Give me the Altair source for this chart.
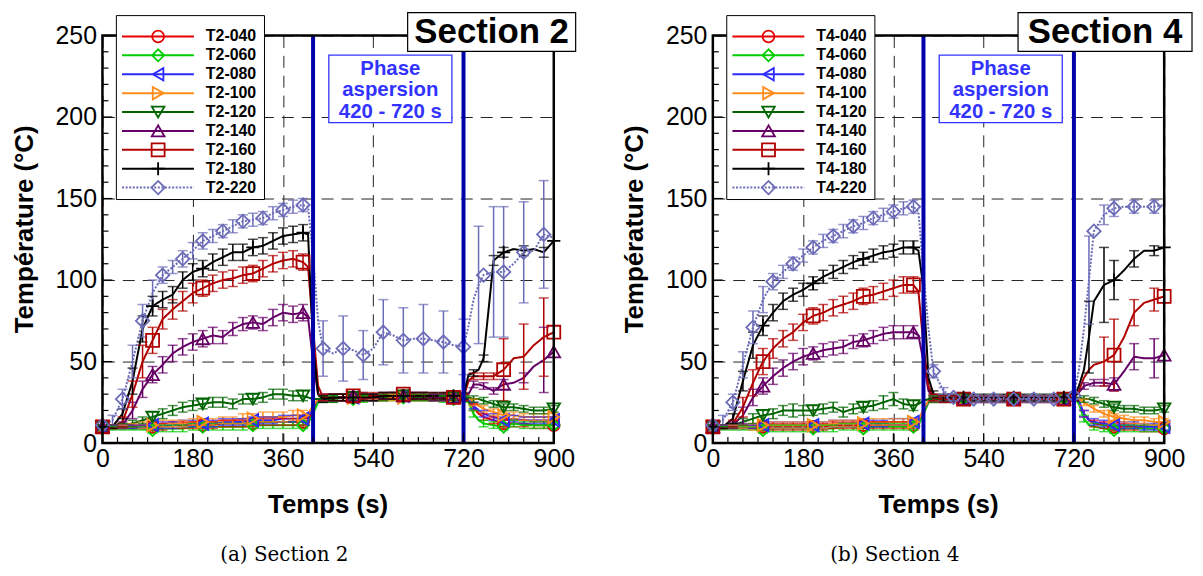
import altair as alt
import pandas as pd

# ---------------- data ----------------
TIMES = [0, 20, 40, 60, 80, 100, 120, 140, 160, 180,
         200, 220, 240, 260, 280, 300, 320, 340, 360, 380,
         400, 410, 420, 430, 440, 460, 480, 500, 520, 540,
         560, 580, 600, 620, 640, 660, 680, 700, 720, 730,
         740, 750, 760, 780, 800, 820, 840, 860, 880, 900]

SERIES = ["040", "060", "080", "100", "120", "140", "160", "180", "220"]
COLORS = ["#e60000", "#00cc00", "#2b2bff", "#ff8c1a", "#006400",
          "#660066", "#b00000", "#000000", "#6b6bb8"]
SHAPES = ["circle", "diamond", "triangle-left", "triangle-right", "triangle-down",
          "triangle-up", "square", "M-1,0H1M0,-1V1", "diamond"]
SIZES = [140, 180, 160, 160, 160, 160, 125, 30, 190]
DASHES = [[1, 0]] * 8 + [[2, 1.6]]

X_TICKS = [0, 180, 360, 540, 720, 900]
Y_TICKS = [0, 50, 100, 150, 200, 250]
PHASE = [420, 720]

# Section 2
S2_040 = [10, 10, 10, 10, 10, 10, 10, 11, 11, 11,
          11, 11, 12, 12, 12, 12, 13, 13, 13, 13,
          13, 14, 20, 26, 27, 28, 28, 28, 28, 28,
          28, 29, 29, 29, 29, 28, 28, 28, 28, 26,
          22, 18, 16, 14, 12, 12, 12, 11, 11, 11]
S2_060 = [9, 9, 9, 9, 9, 8, 9, 9, 9, 10,
          10, 10, 10, 10, 10, 11, 11, 11, 11, 11,
          11, 12, 18, 25, 27, 27, 28, 27, 27, 28,
          28, 28, 28, 28, 28, 28, 27, 27, 27, 25,
          18, 14, 12, 11, 10, 12, 11, 11, 11, 11]
S2_080 = [10, 10, 10, 10, 10, 11, 11, 11, 12, 12,
          12, 12, 13, 13, 13, 14, 14, 14, 15, 15,
          15, 16, 22, 27, 28, 28, 28, 28, 28, 28,
          29, 29, 29, 29, 29, 28, 28, 28, 28, 27,
          23, 20, 18, 16, 14, 15, 14, 14, 14, 14]
S2_100 = [10, 10, 10, 11, 11, 11, 12, 12, 12, 13,
          13, 13, 14, 14, 15, 15, 16, 16, 16, 17,
          17, 18, 23, 27, 28, 28, 28, 28, 28, 28,
          28, 28, 28, 28, 28, 28, 28, 28, 28, 28,
          25, 23, 21, 19, 17, 17, 16, 16, 16, 16]
S2_120 = [10, 10, 11, 12, 14, 16, 18, 20, 22, 23,
          24, 25, 25, 24, 27, 27, 28, 30, 30, 29,
          29, 28, 27, 27, 27, 27, 28, 28, 28, 28,
          28, 29, 29, 28, 28, 28, 28, 28, 28, 28,
          27, 27, 26, 24, 22, 22, 21, 20, 20, 21]
S2_140 = [10, 10, 11, 20, 33, 42, 48, 55, 59, 62,
          64, 66, 65, 70, 73, 74, 73, 77, 80, 79,
          80, 77, 50, 30, 28, 28, 28, 29, 29, 28,
          29, 29, 29, 29, 29, 28, 28, 28, 28, 30,
          36, 36, 35, 32, 36, 37, 40, 47, 51, 56]
S2_160 = [10, 10, 13, 30, 50, 63, 76, 82, 87, 92,
          95, 98, 100, 101, 103, 104, 107, 110, 112, 113,
          111, 108, 70, 35, 28, 28, 28, 29, 29, 29,
          29, 29, 30, 29, 29, 29, 29, 28, 28, 38,
          41, 41, 41, 41, 45, 52, 53, 60, 65, 68]
S2_180 = [10, 10, 18, 38, 70, 84, 88, 91, 100, 105,
          107, 111, 114, 117, 117, 120, 121, 124, 127, 128,
          129, 128, 60, 30, 27, 28, 28, 28, 28, 28,
          29, 29, 29, 29, 29, 29, 29, 29, 29, 42,
          43, 45, 52, 112, 117, 119, 118, 119, 117, 124]
S2_220 = [11, 14, 27, 50, 75, 92, 103, 108, 113, 118,
          124, 127, 130, 133, 136, 137, 138, 141, 143, 145,
          146, 145, 115, 75, 58, 55, 58, 57, 54, 58,
          68, 66, 63, 64, 64, 63, 62, 60, 59, 72,
          88, 97, 103, 105, 105, 110, 117, 118, 128, 126]

E2_LOW = [1, 1, 1, 1, 1, 2, 2, 2, 2, 2,
          2, 2, 2, 2, 2, 2, 2, 2, 2, 2,
          2, 0, 0, 0, 2, 2, 2, 2, 2, 2,
          2, 2, 2, 2, 2, 2, 2, 2, 2, 0,
          2, 0, 2, 2, 2, 2, 2, 2, 2, 2]
E2_100 = [1, 1, 1, 1, 2, 2, 2, 2, 2, 2,
          2, 2, 2, 2, 3, 3, 3, 3, 3, 3,
          3, 0, 0, 0, 2, 2, 2, 2, 2, 2,
          2, 2, 2, 2, 2, 2, 2, 2, 2, 0,
          2, 0, 2, 2, 2, 2, 2, 2, 2, 2]
E2_120 = [1, 1, 1, 2, 2, 3, 3, 3, 3, 3,
          3, 3, 3, 3, 3, 3, 3, 3, 3, 3,
          3, 0, 0, 0, 2, 2, 2, 2, 2, 2,
          2, 2, 2, 2, 2, 2, 2, 2, 2, 0,
          2, 0, 2, 2, 2, 2, 2, 2, 2, 2]
E2_140 = [0, 1, 2, 5, 5, 5, 5, 5, 5, 5,
          5, 5, 4, 4, 4, 4, 4, 5, 5, 5,
          5, 0, 0, 0, 2, 2, 2, 2, 2, 2,
          2, 2, 2, 2, 2, 2, 2, 2, 2, 0,
          2, 0, 2, 2, 3, 0, 3, 0, 20, 0]
E2_160 = [0, 1, 3, 8, 10, 8, 6, 6, 6, 6,
          5, 5, 5, 5, 5, 5, 5, 5, 5, 5,
          5, 0, 0, 0, 2, 2, 2, 2, 2, 2,
          2, 2, 2, 2, 2, 2, 2, 2, 2, 0,
          2, 0, 2, 2, 19, 0, 20, 0, 24, 0]
E2_180 = [0, 1, 3, 8, 8, 6, 5, 5, 5, 5,
          5, 5, 5, 5, 5, 5, 5, 5, 5, 5,
          5, 0, 0, 0, 2, 2, 2, 2, 2, 2,
          2, 2, 2, 2, 2, 2, 2, 2, 2, 0,
          2, 0, 2, 3, 3, 0, 3, 0, 3, 0]
E2_220 = [2, 3, 6, 10, 10, 8, 5, 4, 5, 5,
          5, 4, 4, 4, 4, 4, 4, 4, 4, 4,
          4, 0, 0, 0, 17, 0, 20, 0, 15, 0,
          20, 0, 20, 0, 21, 0, 19, 0, 17, 0,
          0, 36, 0, 40, 40, 0, 31, 0, 33, 0]

# Section 4
S4_040 = [10, 10, 10, 10, 10, 10, 10, 10, 10, 10,
          10, 10, 11, 11, 11, 11, 11, 11, 11, 11,
          11, 12, 18, 25, 27, 27, 27, 27, 27, 27,
          27, 27, 27, 27, 27, 27, 27, 27, 28, 25,
          18, 14, 12, 11, 10, 10, 10, 9, 9, 9]
S4_060 = [9, 9, 9, 9, 9, 8, 9, 9, 9, 9,
          9, 9, 9, 10, 10, 9, 10, 10, 10, 10,
          10, 11, 18, 25, 27, 27, 27, 27, 27, 27,
          27, 27, 27, 27, 27, 27, 27, 27, 28, 24,
          15, 11, 10, 9, 8, 9, 9, 9, 9, 9]
S4_080 = [10, 10, 10, 10, 10, 11, 11, 11, 11, 11,
          11, 11, 12, 12, 12, 12, 12, 12, 13, 13,
          13, 14, 20, 26, 27, 27, 27, 27, 27, 27,
          27, 27, 27, 27, 27, 27, 27, 27, 28, 26,
          18, 14, 13, 12, 11, 11, 11, 10, 10, 10]
S4_100 = [10, 10, 10, 10, 10, 11, 11, 11, 11, 11,
          11, 11, 12, 12, 12, 12, 13, 13, 13, 13,
          13, 14, 21, 26, 27, 27, 27, 27, 27, 27,
          27, 27, 27, 27, 27, 27, 27, 27, 28, 27,
          25, 23, 21, 18, 16, 15, 14, 14, 13, 13]
S4_120 = [10, 10, 11, 13, 15, 17, 18, 20, 20, 20,
          20, 21, 22, 19, 21, 22, 23, 25, 27, 24,
          23, 24, 26, 27, 27, 27, 27, 27, 27, 27,
          27, 27, 27, 27, 27, 27, 27, 27, 28, 28,
          27, 27, 26, 24, 22, 21, 21, 20, 20, 21]
S4_140 = [10, 10, 11, 17, 28, 35, 41, 46, 50, 53,
          55, 57, 58, 59, 62, 63, 65, 67, 68, 68,
          68, 66, 50, 32, 28, 27, 27, 27, 27, 27,
          27, 27, 27, 27, 27, 27, 27, 27, 28, 31,
          35, 36, 37, 37, 36, 44, 53, 52, 52, 54]
S4_160 = [10, 10, 12, 22, 37, 50, 58, 64, 68, 74,
          78, 80, 83, 85, 87, 90, 91, 93, 95, 97,
          97, 93, 60, 35, 28, 27, 27, 27, 27, 27,
          27, 27, 27, 27, 27, 27, 27, 27, 28, 32,
          40, 45, 48, 50, 54, 65, 80, 86, 88, 90]
S4_180 = [10, 10, 15, 38, 60, 72, 80, 87, 91, 94,
          98, 102, 105, 108, 111, 113, 115, 117, 118, 120,
          120, 118, 95, 40, 30, 28, 28, 28, 28, 28,
          28, 28, 28, 28, 28, 28, 28, 28, 28, 35,
          45, 65, 87, 97, 100, 106, 113, 118, 118, 120]
S4_220 = [11, 14, 25, 48, 71, 88, 99, 105, 110, 115,
          120, 124, 127, 130, 133, 135, 138, 140, 142, 144,
          145, 142, 105, 70, 44, 32, 28, 28, 27, 27,
          27, 27, 27, 27, 27, 27, 27, 27, 29, 45,
          70, 100, 130, 140, 144, 145, 145, 145, 145, 146]

E4_LOW = [1, 1, 1, 1, 1, 2, 2, 2, 2, 2,
          2, 2, 2, 2, 2, 2, 2, 2, 2, 2,
          2, 0, 0, 0, 2, 2, 2, 2, 2, 2,
          2, 2, 2, 2, 2, 2, 2, 2, 2, 0,
          2, 0, 2, 2, 2, 2, 2, 2, 2, 2]
E4_100 = [1, 1, 1, 1, 2, 2, 2, 2, 2, 2,
          2, 2, 2, 2, 2, 2, 2, 2, 2, 2,
          2, 0, 0, 0, 2, 2, 2, 2, 2, 2,
          2, 2, 2, 2, 2, 2, 2, 2, 2, 0,
          2, 0, 2, 2, 2, 2, 2, 2, 2, 2]
E4_120 = [1, 1, 1, 2, 3, 3, 3, 3, 4, 3,
          3, 3, 3, 3, 3, 3, 3, 4, 4, 3,
          3, 0, 0, 0, 2, 2, 2, 2, 2, 2,
          2, 2, 2, 2, 2, 2, 2, 2, 2, 0,
          2, 0, 2, 2, 2, 2, 2, 2, 2, 2]
E4_140 = [0, 1, 2, 5, 5, 5, 5, 5, 5, 5,
          4, 4, 4, 4, 4, 4, 4, 4, 4, 4,
          4, 0, 0, 0, 2, 2, 2, 2, 2, 2,
          2, 2, 2, 2, 2, 2, 2, 2, 2, 0,
          2, 0, 2, 2, 4, 0, 8, 0, 12, 0]
E4_160 = [0, 1, 2, 6, 8, 8, 6, 5, 5, 5,
          5, 5, 5, 5, 5, 5, 5, 5, 5, 5,
          5, 0, 0, 0, 2, 2, 2, 2, 2, 2,
          2, 2, 2, 2, 2, 2, 2, 2, 2, 0,
          0, 0, 0, 15, 22, 0, 8, 0, 7, 0]
E4_180 = [0, 1, 3, 6, 8, 6, 5, 5, 4, 4,
          4, 4, 4, 4, 4, 4, 4, 4, 4, 4,
          4, 0, 0, 0, 2, 2, 2, 2, 2, 2,
          2, 2, 2, 2, 2, 2, 2, 2, 2, 0,
          0, 22, 0, 23, 12, 0, 5, 0, 3, 0]
E4_220 = [2, 3, 5, 8, 10, 8, 5, 4, 4, 4,
          4, 4, 4, 4, 4, 4, 4, 4, 4, 4,
          4, 0, 0, 0, 4, 2, 2, 2, 2, 2,
          2, 2, 2, 2, 2, 2, 2, 2, 2, 0,
          0, 27, 0, 6, 5, 0, 4, 0, 4, 0]

PANELS = [
    {"num": "2", "caption": "(a) Section 2", "box_x2": 476,
     "vals": [S2_040, S2_060, S2_080, S2_100, S2_120, S2_140, S2_160, S2_180, S2_220],
     "errs": [E2_LOW, E2_LOW, E2_LOW, E2_100, E2_120, E2_140, E2_160, E2_180, E2_220]},
    {"num": "4", "caption": "(b) Section 4", "box_x2": 482,
     "vals": [S4_040, S4_060, S4_080, S4_100, S4_120, S4_140, S4_160, S4_180, S4_220],
     "errs": [E4_LOW, E4_LOW, E4_LOW, E4_100, E4_120, E4_140, E4_160, E4_180, E4_220]},
]

# ---------------- layout ----------------
W, H = 454, 410
FONT = "Liberation Sans"
XS = alt.Scale(domain=[0, 900], nice=False, zero=False)
YS = alt.Scale(domain=[0, 250], nice=False, zero=False)
AX = alt.Axis(values=X_TICKS, title=None, ticks=False, tickSize=0, domain=False,
              labelFont=FONT, labelFontSize=25, labelColor="black", labelPadding=4,
              labelOverlap=False, labelFlush=False, grid=True, gridColor="#222222",
              gridDash=[12, 8], gridWidth=1, gridOpacity=1)
AY = alt.Axis(values=Y_TICKS, title=None, ticks=False, tickSize=0, domain=False,
              labelFont=FONT, labelFontSize=25, labelColor="black", labelPadding=6,
              labelOverlap=False, labelFlush=False, grid=True, gridColor="#222222",
              gridDash=[12, 8], gridWidth=1, gridOpacity=1)


def X(f):
    return alt.X(f + ":Q", scale=XS, axis=AX)


def Y(f):
    return alt.Y(f + ":Q", scale=YS, axis=AY)


COL = alt.Color("sid:N", scale=alt.Scale(domain=SERIES, range=COLORS), legend=None)
SHP = alt.Shape("sid:N", scale=alt.Scale(domain=SERIES, range=SHAPES), legend=None)
SZ = alt.Size("sid:N", scale=alt.Scale(domain=SERIES, range=SIZES), legend=None)
DSH = alt.StrokeDash("sid:N", scale=alt.Scale(domain=SERIES, range=DASHES), legend=None)

ONE = pd.DataFrame({"k": [0]})

# axis minor/major ticks (inside)
xt = pd.DataFrame({"t": list(range(0, 901, 30))})
xt["y0"] = 0
xt["y1"] = [(10 if v % 180 == 0 else 6) * 250 / H for v in xt["t"]]
yt = pd.DataFrame({"v": list(range(0, 251, 10))})
yt["x0"] = 0
yt["x1"] = [(10 if v % 50 == 0 else 6) * 900 / W for v in yt["v"]]


def panel(p):
    rows = []
    for sid, vals, errs in zip(SERIES, p["vals"], p["errs"]):
        assert len(vals) == len(TIMES) and len(errs) == len(TIMES), sid
        for t, v, e in zip(TIMES, vals, errs):
            mk = (t % 40 == 0 and t < 900) if sid == "220" else (t % 100 == 0)
            rows.append({"sid": sid, "t": t, "T": v, "err": e, "mk": mk})
    df = pd.DataFrame(rows)
    leg = pd.DataFrame({
        "sid": SERIES,
        "label": ["T%s-%s" % (p["num"], s) for s in SERIES],
        "ly": [250 - (1 + 19 * i) * 250 / H for i in range(len(SERIES))],
    })
    base = alt.Chart(df)
    lines = base.mark_line(strokeWidth=2).encode(x=X("t"), y=Y("T"), color=COL, strokeDash=DSH)
    eb_src = base.transform_filter("datum.err > 0").transform_calculate(
        lo="datum.T - datum.err", hi="datum.T + datum.err")
    ebars = eb_src.mark_rule(strokeWidth=1.5).encode(x=X("t"), y=Y("lo"), y2="hi:Q", color=COL)
    caps = eb_src.transform_fold(["lo", "hi"], as_=["end", "v"]).mark_tick(
        orient="horizontal", size=10, thickness=1.5).encode(x=X("t"), y=Y("v"), color=COL)
    pts = base.transform_filter("datum.mk").mark_point(filled=False, strokeWidth=1.8, opacity=1).encode(
        x=X("t"), y=Y("T"), color=COL, shape=SHP, size=SZ)
    phase = alt.Chart(pd.DataFrame({"t": PHASE})).mark_rule(color="#0000a8", strokeWidth=4).encode(
        x=X("t"), y=alt.value(0), y2=alt.value(H))
    xticks = alt.Chart(xt).mark_rule(color="black", strokeWidth=1.2).encode(
        x=X("t"), y=Y("y0"), y2="y1:Q")
    yticks = alt.Chart(yt).mark_rule(color="black", strokeWidth=1.2).encode(
        y=Y("v"), x=X("x0"), x2="x1:Q")
    frame = alt.Chart(ONE).mark_rect(fill="white", fillOpacity=0, stroke="black", strokeWidth=2.5).encode(
        x=alt.value(0), x2=alt.value(W), y=alt.value(0), y2=alt.value(H))
    pbox = alt.Chart(ONE).mark_rect(fill="white", stroke="#3333ff", strokeWidth=1.3).encode(
        x=alt.value(227.7), x2=alt.value(351.5), y=alt.value(19.7), y2=alt.value(87.7))
    ptext = alt.Chart(ONE).mark_text(font=FONT, fontSize=20.5, fontWeight="bold", color="#3333ff",
                                     align="center", baseline="alphabetic", lineHeight=21.8).encode(
        x=alt.value(289.6), y=alt.value(39.3), text=alt.value(["Phase", "aspersion", "420 - 720 s"]))
    lbox = alt.Chart(ONE).mark_rect(fill="white", stroke="black", strokeWidth=1).encode(
        x=alt.value(14), x2=alt.value(163), y=alt.value(-20), y2=alt.value(165))
    lbase = alt.Chart(leg)
    llines = lbase.mark_rule(strokeWidth=2).encode(
        x=alt.value(19.7), x2=alt.value(92), y=Y("ly"), color=COL, strokeDash=DSH)
    lpts = lbase.mark_point(filled=False, strokeWidth=1.8, opacity=1).encode(
        x=alt.value(56), y=Y("ly"), color=COL, shape=SHP, size=SZ)
    ltext = lbase.mark_text(font=FONT, fontSize=16, fontWeight="bold", align="left",
                            baseline="middle", color="black").encode(
        x=alt.value(104), y=Y("ly"), text="label:N")
    sbox = alt.Chart(ONE).mark_rect(fill="white", stroke="black", strokeWidth=1.2).encode(
        x=alt.value(307), x2=alt.value(p["box_x2"]), y=alt.value(-23), y2=alt.value(16))
    stext = alt.Chart(ONE).mark_text(font=FONT, fontSize=35, fontWeight="bold", align="center",
                                     baseline="alphabetic", color="black").encode(
        x=alt.value((307 + p["box_x2"]) / 2), y=alt.value(8), text=alt.value("Section " + p["num"]))
    ytitle = alt.Chart(ONE).mark_text(font=FONT, fontSize=26, fontWeight="bold", align="center",
                                      baseline="alphabetic", angle=270, color="black").encode(
        x=alt.value(-70), y=alt.value(195), text=alt.value("Température (°C)"))
    xtitle = alt.Chart(ONE).mark_text(font=FONT, fontSize=26, fontWeight="bold", align="center",
                                      baseline="alphabetic", color="black").encode(
        x=alt.value(W / 2), y=alt.value(H + 70), text=alt.value("Temps (s)"))
    cap = alt.Chart(ONE).mark_text(font="DejaVu Serif", fontSize=20, align="center",
                                   baseline="alphabetic", color="black").encode(
        x=alt.value(183), y=alt.value(H + 119), text=alt.value(p["caption"]))
    return alt.layer(lines, ebars, caps, pts, phase, xticks, yticks, frame, pbox, ptext,
                     lbox, llines, lpts, ltext, sbox, stext, ytitle, xtitle, cap).properties(
        width=W, height=H)


chart = alt.hconcat(panel(PANELS[0]), panel(PANELS[1]), spacing=46).properties(
    padding={"left": 4, "top": 2, "right": 2, "bottom": 0}
).configure_view(strokeWidth=0)

chart.save("out.html", embed_options={"renderer": "svg", "actions": False})
